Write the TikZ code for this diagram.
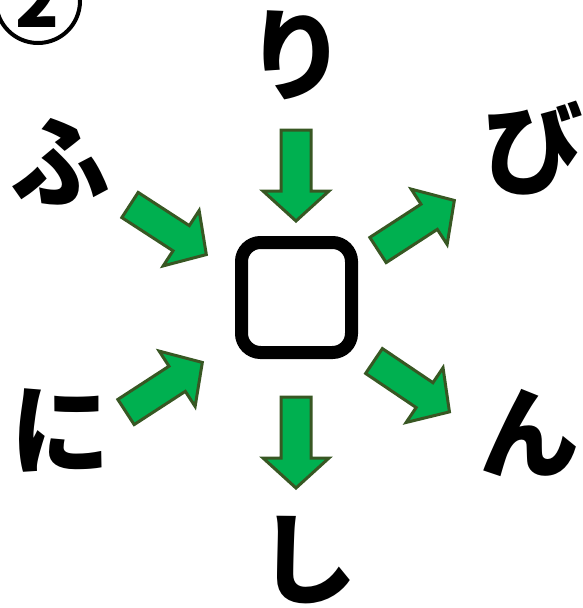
\documentclass[tikz,border=0pt]{standalone}
\usepackage{fontspec}
\newfontfamily\jpfont{Noto Sans CJK JP}
\definecolor{arrgreen}{RGB}{0, 176, 80}
\definecolor{arredge}{RGB}{56, 87, 35}
\usetikzlibrary{positioning}

\begin{document}
\begin{tikzpicture}[x=1pt, y=-1pt,
  kana/.style={font=\jpfont\bfseries\fontsize{100}{100}\selectfont, inner sep=0pt},
  bigarrow/.pic={
    \draw[fill=arrgreen, draw=arredge, line width=3pt, line join=miter]
      (0,-15) -- (61,-15) -- (61,-33) -- (91,0) -- (61,33) -- (61,15) -- (0,15) -- cycle;
  }
]
  \useasboundingbox (0,0) rectangle (582,608);

  % Number
  \node[circle, draw, line width=4pt, minimum size=84pt, inner sep=0pt] (num) at (38,1) {};
  \node[font=\jpfont\bfseries\fontsize{72}{72}\selectfont, anchor=base, inner sep=0pt] (numtext) at (37,27) {2};

  % Centre box
  \node[draw, line width=13pt, minimum size=110pt, inner sep=0pt, rounded corners=19pt] (box) at (296.5,297.5) {};

  % Kana
  \node[kana] (ri) at (296,55) {り};
  \node[kana] (fu) at (60,162) {ふ};
  \node[kana] (bi) at (533,148) {び};
  \node[kana] (ni) at (60,430) {に};
  \node[kana] (nn) at (529,433) {ん};
  \node[kana] (shi) at (307,560) {し};

  % Arrows
  \pic[rotate=-90] at (296,130) {bigarrow};
  \pic[rotate=-33] at (130,205) {bigarrow};
  \pic[rotate=33] at (378,250) {bigarrow};
  \pic[rotate=33] at (126,412) {bigarrow};
  \pic[rotate=-34] at (374,361) {bigarrow};
  \pic[rotate=-90] at (296,397) {bigarrow};
\end{tikzpicture}
\end{document}
